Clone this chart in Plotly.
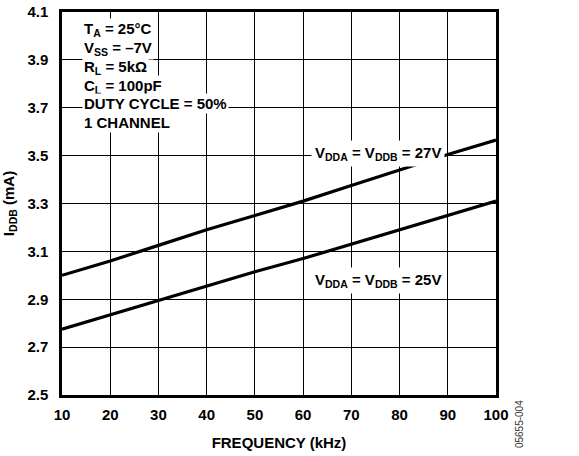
import plotly.graph_objects as go

freq = [10, 20, 30, 40, 50, 60, 70, 80, 90, 100]
i_27v = [3.00, 3.06, 3.125, 3.19, 3.25, 3.31, 3.375, 3.44, 3.505, 3.565]
i_25v = [2.775, 2.835, 2.895, 2.955, 3.015, 3.07, 3.13, 3.19, 3.25, 3.31]
x_ticks = [10, 20, 30, 40, 50, 60, 70, 80, 90, 100]
y_ticks = [2.5, 2.7, 2.9, 3.1, 3.3, 3.5, 3.7, 3.9, 4.1]
conditions = ["T<sub>A</sub> = 25°C", "V<sub>SS</sub> = –7V", "R<sub>L</sub> = 5kΩ",
              "C<sub>L</sub> = 100pF", "DUTY CYCLE = 50%", "1 CHANNEL"]
cond_y = [4.029, 3.946, 3.867, 3.787, 3.717, 3.638]

FONT = "Liberation Sans, Arial, sans-serif"

fig = go.Figure()
fig.add_trace(go.Scatter(x=freq, y=i_27v, mode="lines", line=dict(color="black", width=3.2), showlegend=False))
fig.add_trace(go.Scatter(x=freq, y=i_25v, mode="lines", line=dict(color="black", width=3.2), showlegend=False))

for txt, yy in zip(conditions, cond_y):
    fig.add_annotation(x=14.1, y=yy, xref="x", yref="y", text="<b>" + txt + "</b>",
                       showarrow=False, xanchor="left", yanchor="middle", align="left",
                       bgcolor="white", borderpad=1,
                       font=dict(family=FONT, size=15, color="black"))

fig.add_annotation(x=75.6, y=3.51, xref="x", yref="y",
                   text="<b>V<sub>DDA</sub> = V<sub>DDB</sub> = 27V</b>",
                   showarrow=False, bgcolor="white", borderpad=3,
                   font=dict(family=FONT, size=15, color="black"))
fig.add_annotation(x=75.6, y=2.98, xref="x", yref="y",
                   text="<b>V<sub>DDA</sub> = V<sub>DDB</sub> = 25V</b>",
                   showarrow=False, bgcolor="white", borderpad=3,
                   font=dict(family=FONT, size=15, color="black"))

fig.add_annotation(x=1.053, y=-0.076, xref="paper", yref="paper", text="05655-004",
                   showarrow=False, textangle=-90, xanchor="center", yanchor="middle",
                   font=dict(family=FONT, size=10, color="#333333"))

fig.update_layout(
    width=579, height=456,
    margin=dict(l=62, r=83, t=12, b=61),
    paper_bgcolor="white", plot_bgcolor="white",
    font=dict(family=FONT, size=15, color="black"),
    xaxis=dict(range=[10, 100], tickvals=x_ticks, ticktext=["<b>%d</b>" % v for v in x_ticks],
               showgrid=True, gridcolor="black", gridwidth=1.2, zeroline=False,
               showline=True, linecolor="black", linewidth=2.5, mirror=True, ticks="",
               ticklabelstandoff=4, automargin=False, ticklabeloverflow="allow",
               title=dict(text="<b>FREQUENCY (kHz)</b>", standoff=16,
                          font=dict(family=FONT, size=15))),
    yaxis=dict(range=[2.5, 4.1], tickvals=y_ticks, ticktext=["<b>%.1f</b>" % v for v in y_ticks],
               showgrid=True, gridcolor="black", gridwidth=1.2, zeroline=False,
               showline=True, linecolor="black", linewidth=2.5, mirror=True, ticks="",
               ticklabelstandoff=8, automargin=False, ticklabeloverflow="allow",
               title=dict(text="<b>I<sub>DDB</sub> (mA)</b>", standoff=15,
                          font=dict(family=FONT, size=15))),
)
fig.write_html("out.html", config={"displayModeBar": False},
               post_script="document.body.style.margin='0';document.body.style.overflow='hidden';")
